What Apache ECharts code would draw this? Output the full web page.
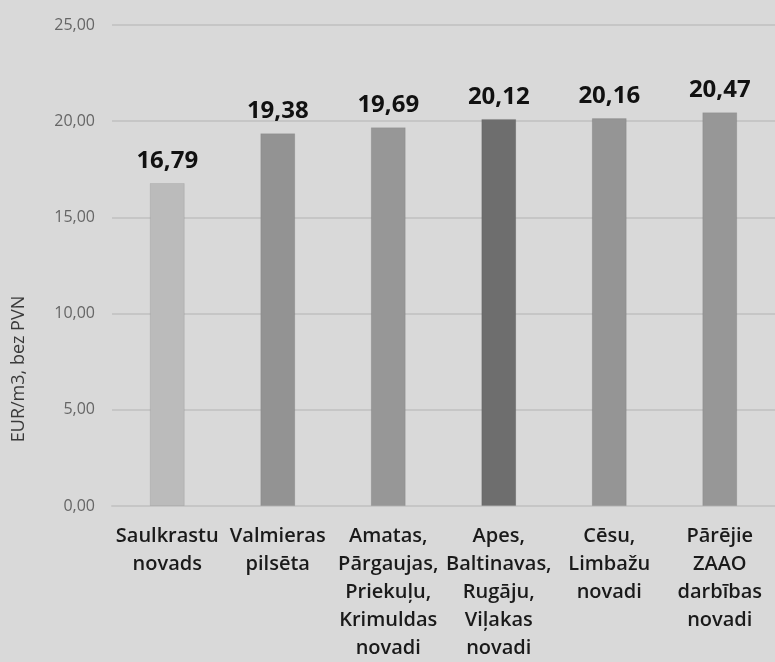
<!DOCTYPE html>
<html>
<head>
<meta charset="utf-8">
<script src="https://cdn.jsdelivr.net/npm/echarts@6/dist/echarts.min.js"></script>
<style>
  html, body { margin: 0; padding: 0; background: #d9d9d9; }
  #chart { width: 775px; height: 662px; }
</style>
</head>
<body>
<div id="chart"></div>
<script>
// kategorijas (novadi)
const categories = [
  'Saulkrastu\nnovads',
  'Valmieras\npilsēta',
  'Amatas,\nPārgaujas,\nPriekuļu,\nKrimuldas\nnovadi',
  'Apes,\nBaltinavas,\nRugāju,\nViļakas\nnovadi',
  'Cēsu,\nLimbažu\nnovadi',
  'Pārējie\nZAAO\ndarbības\nnovadi'
];
// tarifs EUR/m3
const values = [16.79, 19.38, 19.69, 20.12, 20.16, 20.47];
const barColors = ['#bbbbbb', '#939393', '#979797', '#6e6e6e', '#959595', '#979797'];
const yTicks = [0, 5, 10, 15, 20, 25];
const axisTitle = 'EUR/m3, bez PVN';

const fmt = v => v.toFixed(2).replace('.', ',');

const chart = echarts.init(document.getElementById('chart'));
chart.setOption({
  backgroundColor: '#d9d9d9',
  animation: false,
  // attēls oriģinālā nedaudz apgriezts labajā pusē
  grid: { left: 112, width: 668, top: 25, bottom: 155 },
  // ass nosaukums (novietots kā oriģinālā)
  graphic: [{
    type: 'text',
    x: 19,
    y: 369,
    rotation: Math.PI / 2,
    style: {
      text: axisTitle,
      fill: '#3a3a3a',
      font: '18px "Open Sans"',
      align: 'center',
      verticalAlign: 'middle'
    }
  }],
  xAxis: {
    type: 'category',
    data: categories,
    axisLine: { lineStyle: { color: '#c6c6c6', width: 2 } },
    axisTick: { show: false },
    axisLabel: {
      interval: 0,
      margin: 16,
      color: '#1a1a1a',
      fontFamily: 'Open Sans',
      fontWeight: 600,
      fontSize: 20,
      lineHeight: 28
    }
  },
  yAxis: {
    type: 'value',
    min: yTicks[0],
    max: yTicks[yTicks.length - 1],
    interval: 5,
    axisLine: { show: false },
    axisTick: { show: false },
    splitLine: { lineStyle: { color: '#c6c6c6', width: 2 } },
    axisLabel: {
      margin: 17,
      color: '#666',
      fontFamily: 'Open Sans',
      fontSize: 16,
      formatter: v => fmt(v)
    }
  },
  series: [{
    type: 'bar',
    barWidth: 35,
    data: values.map((v, i) => ({
      value: v,
      itemStyle: { color: barColors[i], borderColor: 'rgba(0,0,0,0.08)', borderWidth: 1 }
    })),
    label: {
      show: true,
      position: 'top',
      distance: 10,
      color: '#111',
      fontFamily: 'Open Sans',
      fontWeight: 'bold',
      fontSize: 24,
      formatter: p => fmt(p.value)
    }
  }]
});
</script>
</body>
</html>
